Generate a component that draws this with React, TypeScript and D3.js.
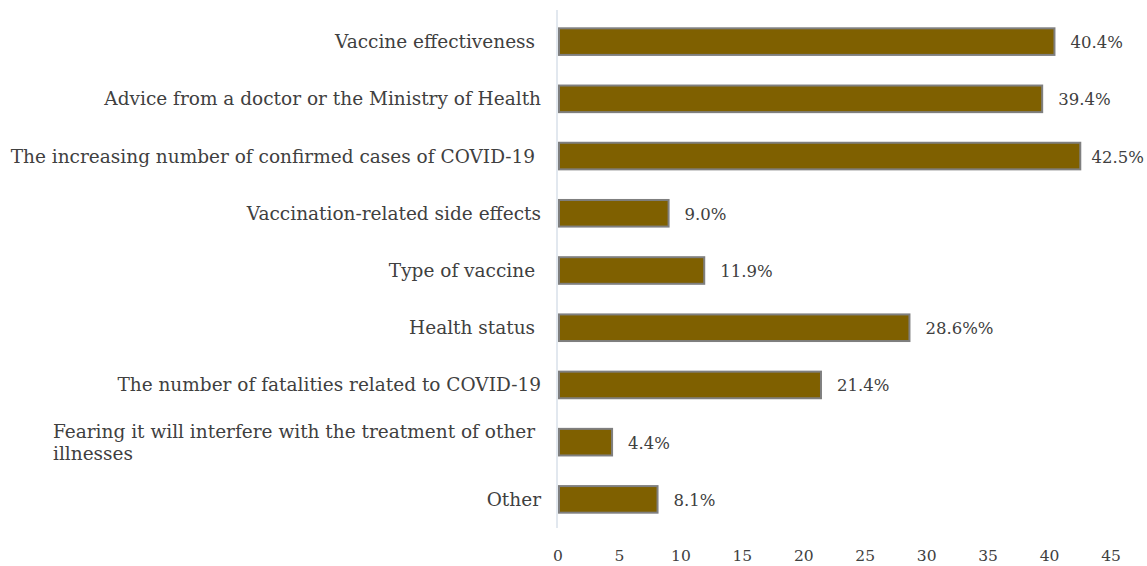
import React from "react";
import * as d3 from "d3";

const categories = [
  "Vaccine effectiveness ",
  "Advice from a doctor or the Ministry of Health",
  "The increasing number of confirmed cases of COVID-19 ",
  "Vaccination-related side effects",
  "Type of vaccine ",
  "Health status ",
  "The number of fatalities related to COVID-19",
  "Fearing it will interfere with the treatment of other illnesses",
  "Other",
];
const values = [40.4, 39.4, 42.5, 9.0, 11.9, 28.6, 21.4, 4.4, 8.1];
const valueLabels = ["40.4%", "39.4%", "42.5%", "9.0%", "11.9%", "28.6%%", "21.4%", "4.4%", "8.1%"];
const xTicks = [0, 5, 10, 15, 20, 25, 30, 35, 40, 45];

const W = 1147;
const H = 566;
const FONT = "'DejaVu Serif', Georgia, serif";
const LABEL_SIZE = 18.5;
const VALUE_SIZE = 16.5;
const TICK_SIZE = 15.5;

let ctx: CanvasRenderingContext2D | null = null;
function measure(text: string, size: number) {
  if (!ctx) ctx = document.createElement("canvas").getContext("2d");
  if (!ctx) return text.length * size * 0.55;
  ctx.font = `${size}px 'DejaVu Serif'`;
  return ctx.measureText(text).width;
}

function wrap(text: string, maxW: number, size: number): string[] {
  const words = text.split(" ");
  const lines: string[] = [];
  let cur = "";
  for (const w of words) {
    const test = cur ? cur + " " + w : w;
    if (measure(test, size) > maxW && cur) {
      lines.push(cur + " ");
      cur = w;
    } else cur = test;
  }
  if (cur) lines.push(cur);
  return lines;
}

export default function App() {
  const x = d3.scaleLinear().domain([0, 45]).range([558, 1111]);
  const y = d3.scaleBand<string>().domain(categories).range([13, 528]).paddingInner(0.5).paddingOuter(0.25);
  const labelRight = 541;
  const maxLabelW = 540;

  return (
    <div style={{ position: "absolute", left: 0, top: 0 }}>
      <svg width={W} height={H} style={{ display: "block", fontFamily: FONT }}>
        <rect width={W} height={H} fill="#ffffff" />
        <line x1={557} x2={557} y1={10} y2={528} stroke="#d9e1ea" strokeWidth={1.5} />
        {categories.map((c, i) => {
          const yc = (y(c) as number) + y.bandwidth() / 2;
          const lines = wrap(c, maxLabelW, LABEL_SIZE);
          const bw = x(values[i]) - x(0);
          const barEnd = x(values[i]);
          const vw = measure(valueLabels[i], VALUE_SIZE);
          const vx = Math.min(barEnd + 16, W - 3 - vw);
          let labelEls;
          if (lines.length === 1) {
            labelEls = (
              <text x={labelRight} y={yc} textAnchor="end" dominantBaseline="central" fontSize={LABEL_SIZE} fill="#404040" style={{ whiteSpace: "pre" }}>
                {lines[0]}
              </text>
            );
          } else {
            const mw = Math.max(...lines.map((l) => measure(l, LABEL_SIZE)));
            const lh = 22;
            const startX = labelRight - mw;
            labelEls = lines.map((l, k) => (
              <text key={k} x={startX} y={yc + (k - (lines.length - 1) / 2) * lh} textAnchor="start" dominantBaseline="central" fontSize={LABEL_SIZE} fill="#404040" style={{ whiteSpace: "pre" }}>
                {l}
              </text>
            ));
          }
          return (
            <g key={c}>
              {labelEls}
              <rect x={x(0) + 1} y={(y(c) as number) + 1} width={bw - 1} height={y.bandwidth() - 2} fill="#7f6000" stroke="#7f7f7f" strokeWidth={2} />
              <text x={vx} y={yc + 1} dominantBaseline="central" fontSize={VALUE_SIZE} fill="#404040">
                {valueLabels[i]}
              </text>
            </g>
          );
        })}
        {xTicks.map((t) => (
          <text key={t} x={x(t)} y={556} textAnchor="middle" dominantBaseline="central" fontSize={TICK_SIZE} fill="#404040">
            {t}
          </text>
        ))}
      </svg>
    </div>
  );
}
